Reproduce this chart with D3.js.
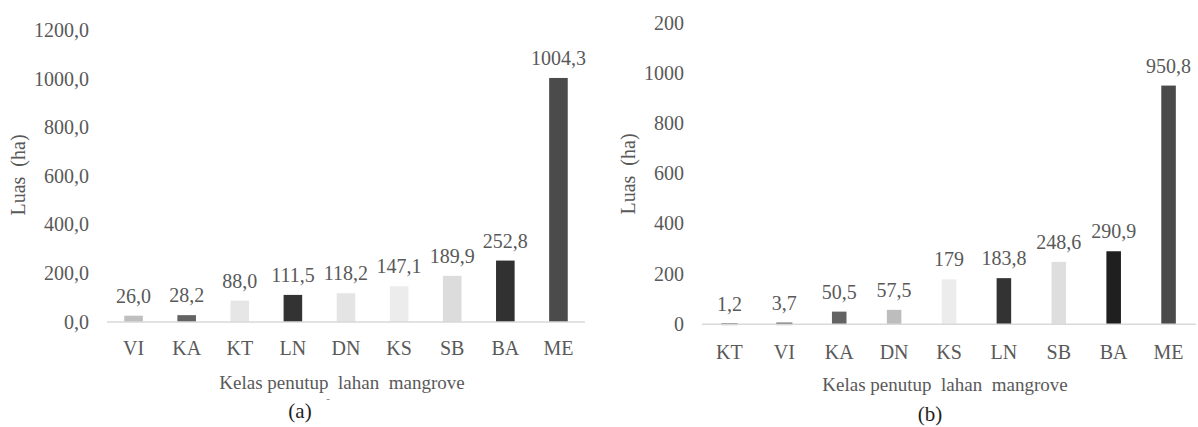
<!DOCTYPE html>
<html>
<head>
<meta charset="utf-8">
<script src="https://cdn.jsdelivr.net/npm/d3@7"></script>
<style>
  html, body { margin: 0; padding: 0; background: #fff; }
  svg { display: block; }
</style>
</head>
<body>
<svg id="chart" width="1198" height="427"></svg>
<script>
// Panel (a): land cover class areas
const catsA = ["VI", "KA", "KT", "LN", "DN", "KS", "SB", "BA", "ME"];
const valsA = [26.0, 28.2, 88.0, 111.5, 118.2, 147.1, 189.9, 252.8, 1004.3];
const colorsA = ["#bfbfbf", "#636363", "#e6e6e6", "#333333", "#e4e4e4", "#ececec", "#dcdcdc", "#313131", "#4b4b4b"];
const ticksA = [0, 200, 400, 600, 800, 1000, 1200];
const tickLabelsA = ["0,0", "200,0", "400,0", "600,0", "800,0", "1000,0", "1200,0"];

// Panel (b): land cover class areas
const catsB = ["KT", "VI", "KA", "DN", "KS", "LN", "SB", "BA", "ME"];
const valsB = [1.2, 3.7, 50.5, 57.5, 179, 183.8, 248.6, 290.9, 950.8];
const colorsB = ["#595959", "#595959", "#636363", "#bdbdbd", "#ececec", "#333333", "#dedede", "#1f1f1f", "#4a4a4a"];
const ticksB = [0, 200, 400, 600, 800, 1000, 1200];
const tickLabelsB = ["0", "200", "400", "600", "800", "1000", "200"];

const yTitle = "Luas  (ha)";
const xTitle = "Kelas penutup  lahan  mangrove";

const FONT = "'Liberation Serif', Tinos, 'Times New Roman', 'DejaVu Serif', serif";
const svg = d3.select("#chart").attr("font-family", FONT);
const textColor = "#595959";

function panel(cfg) {
  const g = svg.append("g").attr("font-family", FONT);
  const x = d3.scaleBand().domain(cfg.cats).range([cfg.x0, cfg.x1]).padding(0);
  const y = d3.scaleLinear().domain([0, 1200]).range([cfg.yBase, cfg.yTop]);
  const bw = x.step() * cfg.barFrac;

  // y tick labels
  g.selectAll("text.tick").data(cfg.ticks).join("text")
    .attr("class", "tick")
    .attr("x", cfg.x0 - 18)
    .attr("y", d => y(d))
    .attr("dy", "0.33em")
    .attr("text-anchor", "end")
    .attr("font-size", 20)
    .attr("fill", textColor)
    .text((d, i) => cfg.tickLabels[i]);

  // bars (very short bars get a thin outline so they stay visible)
  g.selectAll("rect.bar").data(cfg.vals).join("rect")
    .attr("class", "bar")
    .attr("x", (d, i) => x(cfg.cats[i]) + x.bandwidth() / 2 - bw / 2)
    .attr("width", bw)
    .attr("y", d => y(d))
    .attr("height", d => y(0) - y(d))
    .attr("fill", (d, i) => cfg.colors[i])
    .attr("stroke", (d, i) => (y(0) - y(d) < 2 ? cfg.colors[i] : "none"))
    .attr("stroke-width", 1.6);

  // baseline
  g.append("line")
    .attr("x1", cfg.x0).attr("x2", cfg.x1)
    .attr("y1", y(0)).attr("y2", y(0))
    .attr("stroke", "#d9d9d9").attr("stroke-width", 1.5);

  // value labels
  g.selectAll("text.val").data(cfg.vals).join("text")
    .attr("class", "val")
    .attr("x", (d, i) => x(cfg.cats[i]) + x.bandwidth() / 2)
    .attr("y", d => y(d) - 13)
    .attr("text-anchor", "middle")
    .attr("font-size", 20)
    .attr("fill", textColor)
    .text(d => cfg.fmt(d));

  // category labels
  g.selectAll("text.cat").data(cfg.cats).join("text")
    .attr("class", "cat")
    .attr("x", d => x(d) + x.bandwidth() / 2)
    .attr("y", y(0) + cfg.catOffset)
    .attr("text-anchor", "middle")
    .attr("font-size", 20)
    .attr("fill", textColor)
    .text(d => d);

  // x axis title
  g.append("text")
    .attr("x", (cfg.x0 + cfg.x1) / 2 - 4)
    .attr("y", cfg.xTitleY)
    .attr("text-anchor", "middle")
    .attr("font-size", 19)
    .attr("fill", textColor)
    .style("white-space", "pre")
    .text(xTitle);

  // y axis title
  g.append("text")
    .attr("transform", `translate(${cfg.yTitleX},${cfg.yTitleY}) rotate(-90)`)
    .attr("text-anchor", "middle")
    .attr("font-size", 20)
    .attr("fill", textColor)
    .style("white-space", "pre")
    .text(yTitle);

  // panel letter
  g.append("text")
    .attr("x", cfg.letterX)
    .attr("y", cfg.letterY)
    .attr("text-anchor", "middle")
    .attr("font-size", 21)
    .attr("fill", "#1e1e1e")
    .text(cfg.letter);

  return g;
}

panel({
  cats: catsA, vals: valsA, colors: colorsA, ticks: ticksA, tickLabels: tickLabelsA,
  x0: 107, x1: 585, yBase: 322, yTop: 30.4, barFrac: 0.35,
  fmt: d => d3.format(".1f")(d).replace(".", ","),
  catOffset: 33, xTitleY: 389, yTitleX: 25, yTitleY: 175,
  letter: "(a)", letterX: 300, letterY: 418
});

// small stray dash beside the panel letter
svg.append("text")
  .attr("x", 328).attr("y", 402)
  .attr("text-anchor", "middle")
  .attr("font-size", 11)
  .attr("fill", "#777")
  .text("-");

panel({
  cats: catsB, vals: valsB, colors: colorsB, ticks: ticksB, tickLabels: tickLabelsB,
  x0: 702, x1: 1196, yBase: 324.3, yTop: 23, barFrac: 0.265,
  fmt: d => String(d).replace(".", ","),
  catOffset: 35, xTitleY: 391, yTitleX: 635, yTitleY: 174,
  letter: "(b)", letterX: 930, letterY: 421
});
</script>
</body>
</html>
